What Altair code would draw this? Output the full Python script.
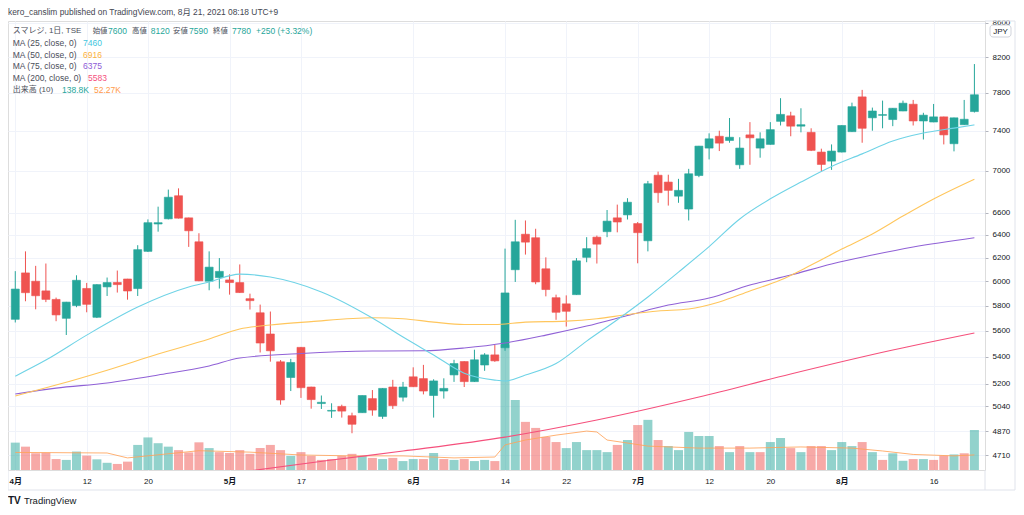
import altair as alt
import pandas as pd

# ---------------- data ----------------
tick_idx = [0, 7, 13, 21, 28, 39, 48, 54, 61, 68, 74, 81, 90]
tick_txt = ["4月", "12", "20", "5月", "17", "6月", "14", "22", "7月", "12", "20", "8月", "16"]
month_idx = [0, 21, 39, 61, 81]
price_ticks = [4710, 4870, 5040, 5200, 5400, 5600, 5800, 6000, 6200, 6400, 6600, 7000, 7400, 7800, 8200, 8600]

opens = [5690, 6070, 6000, 5920, 5850, 5698, 5800, 5940, 5706, 5953, 5990, 6019, 5939, 6255, 6498, 6545, 6759, 6554, 6339, 6000,
         6031, 6011, 5989, 5856, 5742, 5575, 5363, 5247, 5472, 5178, 5060, 5007, 5040, 4975, 4996, 5095, 4970, 5178, 5105, 5252,
         5239, 5117, 5149, 5266, 5365, 5217, 5339, 5415, 5469, 6097, 6406, 6375, 6105, 5864, 5814, 5889, 6203, 6380, 6429, 6554,
         6581, 6502, 6348, 6955, 6889, 6755, 6635, 6952, 7223, 7343, 7300, 7057, 7357, 7223, 7260, 7497, 7555, 7447, 7383, 7183,
         7093, 7183, 7390, 7757, 7534, 7560, 7516, 7606, 7678, 7501, 7490, 7544, 7267, 7462, 7600]
highs = [6085, 6255, 6130, 6150, 5865, 5830, 6050, 5986, 5975, 6031, 6090, 6020, 6309, 6540, 6657, 6817, 6829, 6556, 6415, 6255,
         6197, 6058, 6142, 5897, 5808, 5752, 5376, 5385, 5475, 5180, 5117, 5062, 5052, 4996, 5117, 5156, 5170, 5230, 5215, 5322,
         5340, 5234, 5241, 5378, 5367, 5454, 5428, 5490, 6279, 6536, 6530, 6455, 6203, 5889, 5883, 6197, 6380, 6394, 6626, 6676,
         6736, 6516, 6900, 6990, 6960, 6920, 7017, 7245, 7373, 7400, 7532, 7333, 7489, 7383, 7489, 7743, 7598, 7635, 7425, 7217,
         7260, 7456, 7695, 7833, 7642, 7717, 7637, 7717, 7724, 7587, 7681, 7546, 7536, 7724, 8120]
lows = [5665, 5835, 5770, 5828, 5675, 5567, 5787, 5746, 5700, 5878, 5906, 5848, 5878, 6250, 6429, 6540, 6548, 6294, 6000, 5925,
        5939, 5889, 5904, 5768, 5433, 5364, 5052, 5149, 5100, 5024, 5022, 4960, 4962, 4855, 4996, 4975, 4953, 5022, 5075, 5178,
        5125, 4962, 5095, 5215, 5178, 5215, 5296, 5363, 5446, 5994, 6227, 5975, 5875, 5686, 5633, 5887, 6161, 6150, 6380, 6423,
        6539, 6152, 6255, 6693, 6667, 6693, 6530, 6936, 7110, 7193, 7277, 7017, 7057, 7127, 7258, 7454, 7343, 7383, 7193, 6993,
        7007, 7180, 7388, 7277, 7400, 7425, 7447, 7604, 7454, 7310, 7488, 7260, 7190, 7460, 7590]
closes = [5935, 5905, 5880, 5850, 5725, 5828, 6008, 5810, 5972, 5989, 5972, 5919, 6270, 6510, 6510, 6745, 6551, 6437, 6003, 6119,
          6083, 5989, 5906, 5840, 5505, 5446, 5085, 5358, 5173, 5088, 5069, 5012, 5007, 4916, 5117, 5014, 5168, 5045, 5178, 5180,
          5149, 5222, 5168, 5350, 5217, 5378, 5415, 5370, 5903, 6339, 6336, 5994, 5931, 5746, 5754, 6173, 6279, 6318, 6524, 6516,
          6698, 6420, 6873, 6788, 6810, 6810, 6969, 7243, 7317, 7273, 7333, 7223, 7327, 7317, 7411, 7570, 7447, 7462, 7200, 7060,
          7193, 7454, 7652, 7425, 7606, 7568, 7635, 7689, 7501, 7562, 7544, 7357, 7534, 7519, 7780]
volumes_k = [95, 81, 58, 60, 38, 35, 64, 50, 37, 25, 21, 29, 87, 113, 93, 81, 69, 61, 96, 76,
             62, 59, 69, 56, 76, 87, 69, 49, 62, 49, 35, 38, 49, 56, 49, 42, 38, 42, 31, 38,
             38, 59, 38, 35, 38, 31, 35, 31, 434, 243, 167, 146, 115, 97, 76, 97, 69, 69, 62, 87,
             104, 156, 174, 104, 83, 69, 132, 118, 118, 83, 62, 83, 62, 62, 97, 111, 76, 62, 83, 83,
             69, 97, 83, 97, 62, 35, 58, 32, 38, 38, 35, 50, 54, 58, 138.8]

ma25_i = [0, 3, 7, 12, 17, 19, 22, 25, 30, 35, 38, 41, 44, 47, 48, 50, 53, 56, 59, 62, 65, 68, 71, 74, 77, 80, 83, 86, 89, 92, 94]
ma25_v = [5257, 5376, 5566, 5788, 5952, 5994, 6060, 6035, 5911, 5700, 5551, 5414, 5279, 5228, 5221, 5265, 5350, 5520, 5687,
          5870, 6077, 6297, 6544, 6730, 6889, 7040, 7165, 7295, 7376, 7427, 7460]
ma50_i = [0, 4, 9, 14, 19, 22, 25, 29, 35, 38, 41, 44, 47, 50, 54, 57, 60, 63, 66, 69, 72, 75, 78, 81, 84, 87, 90, 94]
ma50_v = [5114, 5192, 5301, 5421, 5536, 5614, 5645, 5672, 5702, 5695, 5668, 5649, 5649, 5668, 5676, 5695, 5728, 5756, 5772,
          5829, 5919, 6010, 6137, 6275, 6408, 6570, 6728, 6916]
ma75_i = [0, 4, 9, 14, 19, 22, 28, 35, 40, 44, 48, 52, 56, 60, 64, 68, 72, 76, 80, 84, 88, 94]
ma75_v = [5128, 5170, 5207, 5265, 5332, 5391, 5425, 5444, 5446, 5467, 5505, 5566, 5637, 5720, 5804, 5861, 5968, 6052, 6146,
          6223, 6293, 6375]
ma200_i = [23, 31, 38, 48, 57, 67, 76, 86, 94]
ma200_v = [4607, 4677, 4736, 4829, 4945, 5106, 5273, 5452, 5583]
vma_i = [0, 9, 11, 18, 23, 28, 33, 38, 43, 47, 48, 50, 53, 56, 57, 58, 62, 67, 72, 77, 82, 85, 88, 92, 94]
vma_v = [61, 59, 42, 67, 62, 52, 49, 49, 42, 45, 87, 104, 121, 135, 132, 104, 83, 76, 76, 80, 76, 66, 54, 49, 52.27]

# ---------------- styling ----------------
FONT = "Liberation Sans, Noto Sans CJK JP, sans-serif"
UP, DN = "#26a69a", "#ef5350"
GRID = "#f0f3fa"
FRAME = "#e0e3eb"
TXT = "#4a4e59"

df = pd.DataFrame({"i": list(range(len(closes))), "open": opens, "high": highs, "low": lows,
                   "close": closes, "vol": volumes_k})
df["dir"] = ["up" if c >= o else "down" for o, c in zip(opens, closes)]
prev = [closes[0] - 1] + closes[:-1]
df["vdir"] = ["up" if c >= p else "down" for p, c in zip(prev, closes)]

dir_scale = alt.Scale(domain=["up", "down"], range=[UP, DN])
xscale = alt.Scale(domain=[-0.223, 94.549], nice=False, zero=False)
pscale = alt.Scale(type="log", domain=[4612.6, 8622], nice=False, zero=False)
vscale = alt.Scale(domain=[0, 1558], nice=False, zero=True)

label_expr = "[" + ",".join("'%s'" % t for t in tick_txt) + "][indexof([" + ",".join(str(v) for v in tick_idx) + "], datum.value)]"
bold_test = "indexof([" + ",".join(str(v) for v in month_idx) + "], datum.value) >= 0"

x_axis = alt.Axis(
    values=tick_idx, labelExpr=label_expr, grid=True, gridColor=GRID, ticks=False, domain=False,
    labelPadding=7, labelFontSize=8, labelColor="#131722", labelFont=FONT, labelOverlap=False,
    labelFlush=False, title=None,
    labelFontWeight={"condition": {"test": bold_test, "value": "bold"}, "value": "normal"})
y_axis = alt.Axis(
    orient="right", values=price_ticks, format="d", grid=True, gridColor=GRID, domain=False,
    tickSize=3, tickColor="#b2b5be", labelPadding=4, labelFontSize=8, labelColor="#131722",
    labelFont=FONT, labelOverlap=False, labelFlush=False, title=None)


def X():
    return alt.X("i:Q", scale=xscale, axis=x_axis)


def PY(field):
    return alt.Y(field, scale=pscale, axis=y_axis)


def VY(field):
    return alt.Y(field, scale=vscale, axis=None)


base = alt.Chart(df)

wicks = base.mark_rule(strokeWidth=1).encode(
    x=X(), y=PY("low:Q"), y2="high:Q",
    color=alt.Color("dir:N", scale=dir_scale, legend=None))

bodies = base.mark_bar(size=8, strokeWidth=0.6).encode(
    x=X(), y=PY("open:Q"), y2="close:Q",
    color=alt.Color("dir:N", scale=dir_scale, legend=None),
    stroke=alt.Stroke("dir:N", scale=dir_scale, legend=None))


def ma_line(idx, vals, color):
    d = pd.DataFrame({"i": idx, "v": vals})
    return alt.Chart(d).mark_line(color=color, strokeWidth=1.1, interpolate="monotone", clip=True).encode(
        x=X(), y=PY("v:Q"))


price = alt.layer(
    wicks, bodies,
    ma_line(ma200_i, ma200_v, "#f5507c"),
    ma_line(ma75_i, ma75_v, "#9061d6"),
    ma_line(ma50_i, ma50_v, "#ffc65c"),
    ma_line(ma25_i, ma25_v, "#6fd3e6"),
)

vbars = base.mark_bar(size=9, opacity=0.5).encode(
    x=X(), y=VY("vol:Q"),
    color=alt.Color("vdir:N", scale=dir_scale, legend=None))
vma = alt.Chart(pd.DataFrame({"i": vma_i, "v": vma_v})).mark_line(color="#ffa35a", strokeWidth=1, opacity=0.85).encode(
    x=X(), y=VY("v:Q"))
volume = alt.layer(vbars, vma)

main = alt.layer(volume, price).resolve_scale(y="independent")

ONE = pd.DataFrame({"a": [0]})


def txt(s, x, y, color=TXT, size=8.5, weight="normal", baseline="middle", align="left"):
    return alt.Chart(ONE).mark_text(text=s, align=align, baseline=baseline, fontSize=size, font=FONT,
                                    color=color, fontWeight=weight).encode(x=alt.value(x), y=alt.value(y))


def rule(x, x2, y, y2, color=FRAME):
    return alt.Chart(ONE).mark_rule(color=color, strokeWidth=1).encode(
        x=alt.value(x), x2=alt.value(x2), y=alt.value(y), y2=alt.value(y2))


def box(x, x2, y, y2, fill="white", stroke=None, radius=0):
    kw = dict(fill=fill, cornerRadius=radius)
    if stroke:
        kw.update(stroke=stroke, strokeWidth=1)
    return alt.Chart(ONE).mark_rect(**kw).encode(
        x=alt.value(x), x2=alt.value(x2), y=alt.value(y), y2=alt.value(y2))


CJK = 7.4
annotations = [
    # hide the part of the top price label above the pane, as in the source
    box(978, 1006, -6, -0.5),
    # frame pieces outside plot area
    rule(1007, 1007, 0, 469), rule(977, 1007, 0, 0), rule(0, 1007, 469, 469), rule(977, 977, 449, 469),
    rule(0, 0, 449, 469),
    # JPY badge
    box(982, 1003, 4, 16, stroke="#d1d4dc", radius=3),
    txt("JPY", 992.5, 10.5, "#131722", size=8, align="center"),
    # header
    txt("kero_canslim published on TradingView.com, 8月 21, 2021 08:18 UTC+9", 0, -6, "#434651", size=8.4,
        baseline="alphabetic"),
    # legend lines
    txt("スマレジ, 1日, TSE", 4.7, 10, size=8), txt("始値", 84.7, 10, size=CJK), txt("7600", 100, 10, UP),
    txt("高値", 124, 10, size=CJK), txt("8120", 142.7, 10, UP), txt("安値", 165, 10, size=CJK),
    txt("7590", 181, 10, UP), txt("終値", 205, 10, size=CJK), txt("7780", 224, 10, UP),
    txt("+250 (+3.32%)", 248, 10, UP),
    txt("MA (25, close, 0)", 4.7, 21.8), txt("7460", 75, 21.8, "#3fc6de"),
    txt("MA (50, close, 0)", 4.7, 33.6), txt("6916", 75, 33.6, "#fbb13c"),
    txt("MA (75, close, 0)", 4.7, 45.4), txt("6375", 75, 45.4, "#8e5bd6"),
    txt("MA (200, close, 0)", 4.7, 57.2), txt("5583", 80, 57.2, "#f5507c"),
    txt("出来高 (10)", 4.7, 69, size=8), txt("138.8K", 54, 69, UP), txt("52.27K", 86, 69, "#ff9a4a"),
    # footer logo
    txt("TV", 0, 480, "#131722", size=10, weight="bold"),
    txt("TradingView", 16, 480, "#131722", size=9.5),
]

chart = alt.layer(main, *annotations).properties(
    width=977, height=449,
    padding={"left": 0, "top": 13, "right": 31, "bottom": 37},
    autosize=alt.AutoSizeParams(type="none"),
).configure_view(stroke=FRAME, strokeWidth=1).configure(background="white")

chart.save("out.html", embed_options={"renderer": "svg", "actions": False})
